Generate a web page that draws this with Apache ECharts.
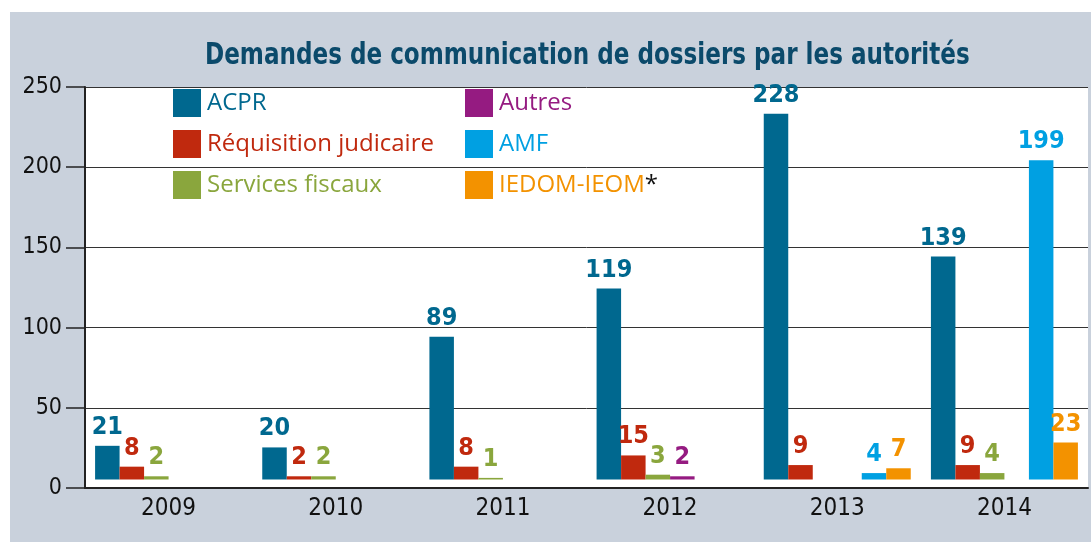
<!DOCTYPE html>
<html>
<head>
<meta charset="utf-8">
<script src="https://cdn.jsdelivr.net/npm/echarts@6/dist/echarts.min.js"></script>
<style>
html, body { margin: 0; padding: 0; background: #fff; }
#chart { width: 1091px; height: 542px; }
</style>
</head>
<body>
<div id="chart"></div>
<script>
var years = ['2009', '2010', '2011', '2012', '2013', '2014'];
var acpr = [21, 20, 89, 119, 228, 139];
var requisition = [8, 2, 8, 15, 9, 9];
var fiscaux = [2, 2, 1, 3, null, 4];
var autres = [null, null, null, 2, null, null];
var amf = [null, null, null, null, 4, 199];
var iedom = [null, null, null, null, 7, 23];
var yTicks = [0, 50, 100, 150, 200, 250];

// bars in the source start a little above the 0 line
var BASE = 5.3;
var narrow = '"DejaVu Sans Condensed", sans-serif';
var legendFont = '"Open Sans", "Liberation Sans", sans-serif';

var defs = [
    { name: 'ACPR', data: acpr, color: '#00688f' },
    { name: 'Réquisition judicaire', data: requisition, color: '#c0290e' },
    { name: 'Services fiscaux', data: fiscaux, color: '#8aa63d' },
    { name: 'Autres', data: autres, color: '#951b81' },
    { name: 'AMF', data: amf, color: '#00a0e2' },
    { name: 'IEDOM-IEOM', data: iedom, color: '#f39200' }
];

var series = [];
defs.forEach(function (d, i) {
    series.push({
        name: 'base' + i,
        type: 'bar',
        stack: 's' + i,
        barWidth: 24.5,
        silent: true,
        itemStyle: { color: 'transparent' },
        data: d.data.map(function (v) { return v == null ? null : BASE; })
    });
    series.push({
        name: d.name,
        type: 'bar',
        stack: 's' + i,
        barWidth: 24.5,
        barGap: '0%',
        itemStyle: { color: d.color },
        label: {
            show: true,
            position: 'top',
            distance: 6,
            color: d.color,
            fontFamily: narrow,
            fontWeight: 'bold',
            fontSize: 25
        },
        data: d.data
    });
});

function legendItem(d) {
    return { name: d.name, textStyle: { color: d.color } };
}

var legendBase = {
    orient: 'vertical',
    top: 89,
    padding: 0,
    itemWidth: 28,
    itemHeight: 28,
    itemGap: 13,
    icon: 'rect',
    selectedMode: false,
    textStyle: {
        fontFamily: legendFont,
        fontSize: 24,
        padding: [0, 0, 0, 1]
    }
};

var chart = echarts.init(document.getElementById('chart'));
chart.setOption({
    animation: false,
    backgroundColor: '#fff',
    graphic: [{
        type: 'rect',
        z: -10,
        shape: { x: 10, y: 12, width: 1081, height: 530 },
        style: { fill: '#c9d1dc' }
    }, {
        // condensed title, squeezed like the original typeface
        type: 'text',
        x: 205,
        y: 40,
        scaleX: 0.828,
        style: {
            text: 'Demandes de communication de dossiers par les autorités',
            font: 'bold 31px ' + narrow,
            fill: '#0b4a6b'
        }
    }],
    legend: [
        Object.assign({}, legendBase, {
            left: 173,
            data: defs.slice(0, 3).map(legendItem)
        }),
        Object.assign({}, legendBase, {
            left: 465,
            data: defs.slice(3).map(legendItem),
            formatter: function (name) {
                return name === 'IEDOM-IEOM' ? '{a|IEDOM-IEOM}{b|*}' : name;
            },
            textStyle: Object.assign({}, legendBase.textStyle, {
                rich: {
                    a: { color: '#f39200', fontSize: 24, fontFamily: legendFont },
                    b: { color: '#111', fontSize: 24, fontFamily: legendFont }
                }
            })
        })
    ],
    grid: {
        left: 85,
        right: 3,
        top: 87,
        bottom: 54,
        show: true,
        backgroundColor: '#fff',
        borderWidth: 0
    },
    xAxis: {
        type: 'category',
        data: years,
        axisLine: { lineStyle: { color: '#222', width: 2 } },
        axisTick: { length: 32, lineStyle: { color: '#222', width: 2 } },
        axisLabel: {
            margin: 9,
            color: '#111',
            fontFamily: narrow,
            fontSize: 24
        }
    },
    yAxis: {
        type: 'value',
        min: yTicks[0],
        max: yTicks[yTicks.length - 1],
        interval: 50,
        axisLine: { show: true, lineStyle: { color: '#222', width: 2 } },
        axisTick: { show: true, length: 19, lineStyle: { color: '#222', width: 1.5 } },
        axisLabel: {
            margin: 23,
            color: '#111',
            fontFamily: narrow,
            fontSize: 23
        },
        splitLine: { lineStyle: { color: '#333', width: 1 } }
    },
    series: series
});
</script>
</body>
</html>
